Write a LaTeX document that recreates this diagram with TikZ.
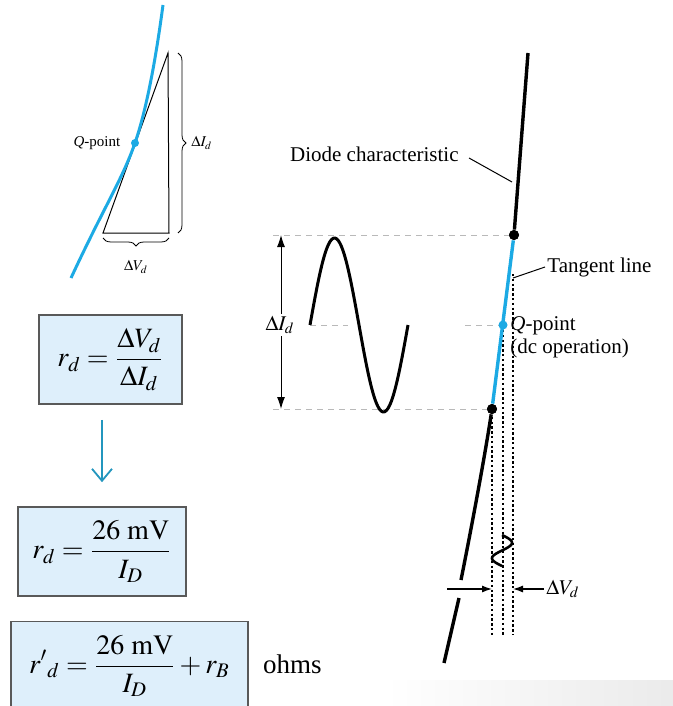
\documentclass[tikz,border=0pt]{standalone}
\usepackage{mathptmx}
\usepackage{fontspec}
\setmainfont{Liberation Serif}
\usetikzlibrary{arrows.meta,positioning,decorations.pathreplacing}
\definecolor{curveblue}{RGB}{28,170,228}
\definecolor{boxfill}{RGB}{222,239,251}
\definecolor{arrowteal}{RGB}{35,150,190}
\tikzset{
  eqbox/.style={draw=black!65, line width=0.8pt, fill=boxfill, inner sep=0pt, font=\fontsize{14}{16}\selectfont},
  charline/.style={line width=1.7pt},
  tanline/.style={curveblue, line width=1.7pt},
  guide/.style={gray!55, line width=0.5pt, dash pattern=on 3pt off 2.5pt},
  vdots/.style={line width=0.6pt, dash pattern=on 1.2pt off 1.2pt},
  bdot/.style={circle, fill=black, inner sep=0pt, minimum size=5pt},
  qdot/.style={circle, fill=curveblue, inner sep=0pt, minimum size=4.5pt},
  lbl/.style={font=\fontsize{10.5}{11.5}\selectfont, inner sep=1pt},
  smlbl/.style={font=\fontsize{7.5}{9}\selectfont, inner sep=1pt},
  brace/.style={decorate, decoration={brace, amplitude=4pt}, line width=0.4pt},
  leader/.style={line width=0.5pt},
}

\begin{document}
\begin{tikzpicture}[x=0.5pt, y=-0.5pt]
        \useasboundingbox (0,0) rectangle (673,706);
        \clip (0,0) rectangle (673,706);
        \shade[left color=white, right color=black!8] (385,680) rectangle (673,706);
        % small sketch, top left
        \draw[line width=0.5pt] (103,233) -- (168,53) -- (169,233) -- cycle;
        \draw[curveblue, line width=1.5pt] (71,278) .. controls (105,205) and (122,180) .. (135,143)
              .. controls (148,105) and (157,50) .. (163,5);
        \node[qdot, minimum size=4pt] (sq) at (135,143) {};
        \node[smlbl, left=4pt of sq] (sqlbl) {\textit{Q}-point};
        \draw[brace] (178,53) -- (178,233) node[midway, right=5.5pt, smlbl] (sdi) {$\Delta I_d$};
        \draw[brace] (169,238) -- (103,238) node[midway, below=10pt, smlbl] (sdv) {$\Delta V_d$};
        % formulas
        \node[eqbox, minimum width=71.5pt, minimum height=44.5pt] (b1) at (110.5,359.5)
              {$\displaystyle r_d = \frac{\Delta V_d}{\Delta I_d}$};
        \node[eqbox, minimum width=84pt, minimum height=44.5pt] (b2) at (102,551.5)
              {$\displaystyle r_d = \frac{26\ \mathrm{mV}}{I_D}$};
        \node[eqbox, minimum width=118.5pt, minimum height=44.5pt] (b3) at (129.5,666)
              {$\displaystyle {r'}_{d} = \frac{26\ \mathrm{mV}}{I_D} + r_B$};
        \node[base right=7pt of b3, font=\fontsize{13.5}{16}\selectfont, inner sep=0pt] (ohms) {ohms};
        \draw[arrowteal, line width=0.9pt, -{Straight Barb[length=6pt,width=10pt]},
              shorten <=7.5pt, shorten >=12pt] (b2.north |- b1.south) -- (b2.north);
        % right: characteristic
        \node[bdot] (top) at (514,235) {};
        \node[bdot] (bot) at (492,409) {};
        \draw[guide] (273,235) -- (top);
        \draw[guide] (273,409) -- (bot);
        \draw[guide] (310,325) -- (348,325);
        \draw[guide] (465,325) -- (503,325);
        \draw[vdots] (513,274) -- (513,635);
        \draw[vdots] (503,330) -- (503,635);
        \draw[vdots] (492,412) -- (492,635);
        \draw[{Latex[length=6pt,width=4pt]}-{Latex[length=6pt,width=4pt]}, line width=0.5pt] (281,235) -- (281,409);
        \node[lbl, fill=white] (di) at (280,325) {$\Delta I_d$};
        \draw[line width=1.5pt] plot[domain=0:360, samples=60, smooth] ({310+\x/360*98}, {325-87*sin(\x)});
        \draw[charline] (528,53) -- (top);
        \draw[tanline] (top) -- (bot);
        \draw[charline] (bot) .. controls (485,455) and (472,525) .. (461,580);
        \draw[charline] (459,598) -- (444,663);
        \node[bdot] at (top) {};
        \node[bdot] at (bot) {};
        \node[qdot] (q) at (503,325) {};
        \draw[line width=1.3pt] plot[domain=0:360, samples=40, smooth] ({502+10*sin(\x)}, {535+\x/360*31});
        % labels
        \node[lbl, anchor=east] (dclbl) at (461,154) {Diode characteristic};
        \draw[leader] ([xshift=4pt,yshift=-2pt]dclbl.east) -- (512,182);
        \node[lbl, anchor=west] (tllbl) at (545,267) {Tangent line};
        \draw[leader] (tllbl.west) -- (513,278);
        \node[lbl, anchor=west, align=left] (qlbl) at (508,337) {\textit{Q}-point\\(dc operation)};
        \node[lbl, anchor=west] (dv) at (544,589) {$\Delta V_d$};
        \coordinate (vl) at (492,589);
        \coordinate (vr) at (513,589);
        \draw[-{Latex[length=5pt,width=3.5pt]}, line width=0.6pt] (447,589) -- (vl);
        \draw[-{Latex[length=5pt,width=3.5pt]}, line width=0.6pt] (dv.west) -- (vr);
      \end{tikzpicture}
\end{document}
